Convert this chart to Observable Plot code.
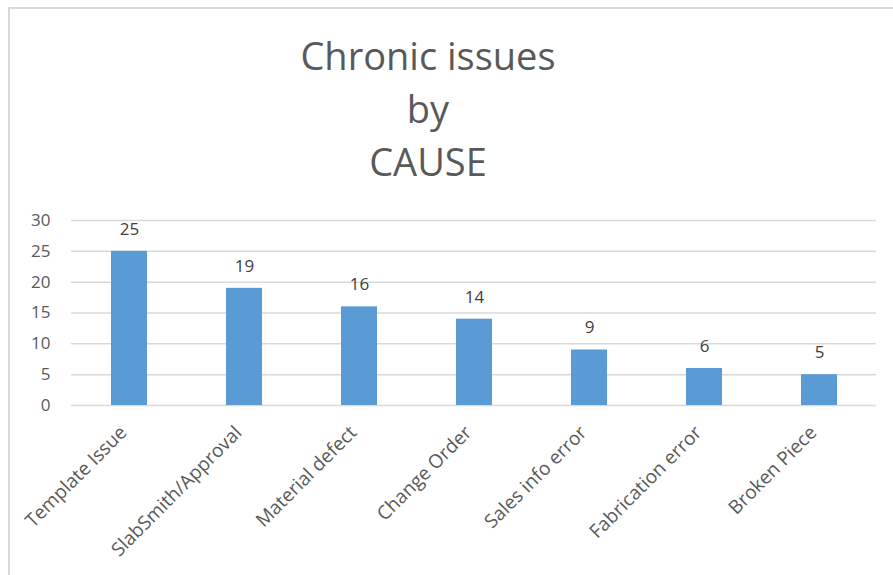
<!DOCTYPE html>
<html>
<head>
<meta charset="utf-8">
<script src="https://cdn.jsdelivr.net/npm/d3@7"></script>
<script src="https://cdn.jsdelivr.net/npm/@observablehq/plot@0.6"></script>
<style>
  html, body { margin: 0; padding: 0; background: #fff; }
  #frame {
    position: relative; width: 893px; height: 575px; overflow: hidden;
    font-family: "Open Sans", "DejaVu Sans", sans-serif;
  }
  #border {
    position: absolute; left: 8px; top: 7px; right: -10px; bottom: -10px;
    border-left: 2px solid #d9d9d9; border-top: 2px solid #d9d9d9;
  }
  #title {
    position: absolute; left: 0; width: 856px; top: 29px;
    text-align: center; color: #595959; font-size: 38px; line-height: 53px;
  }
  #chart { position: absolute; left: 0; top: 200px; }
</style>
</head>
<body>
<div id="frame">
  <div id="border"></div>
  <div id="title">Chronic issues<br>by<br>CAUSE</div>
  <div id="chart"></div>
</div>
<script>
// Number of chronic issues recorded for each cause
const causes = ["Template Issue", "SlabSmith/Approval", "Material defect", "Change Order", "Sales info error", "Fabrication error", "Broken Piece"];
const counts = [25, 19, 16, 14, 9, 6, 5];
const yTicks = [0, 5, 10, 15, 20, 25, 30];

const data = causes.map((cause, i) => ({cause, count: counts[i]}));

const plot = Plot.plot({
  width: 893,
  height: 375,
  marginLeft: 71,
  marginRight: 17,
  marginTop: 20,
  marginBottom: 170,
  style: {fontFamily: "'Open Sans', 'DejaVu Sans', sans-serif", fontSize: "17px", color: "#595959", background: "transparent"},
  x: {domain: causes, paddingInner: 0.69, paddingOuter: 0.345},
  y: {domain: [0, 30]},
  marks: [
    Plot.ruleY(yTicks, {stroke: "#d9d9d9", strokeWidth: 1.5}),
    Plot.barY(data, {x: "cause", y: "count", fill: "#5b9bd5"}),
    Plot.text(data, {x: "cause", y: "count", text: d => String(d.count), dy: -22, fill: "#404040", fontSize: 17}),
    Plot.axisY({ticks: yTicks, tickSize: 0, tickPadding: 21, fontSize: 17, fill: "#595959", label: null}),
    Plot.axisX({tickSize: 0, tickRotate: -45, tickPadding: 24, dx: -6, fontSize: 19, fill: "#595959", label: null})
  ]
});
document.getElementById("chart").appendChild(plot);
</script>
</body>
</html>
